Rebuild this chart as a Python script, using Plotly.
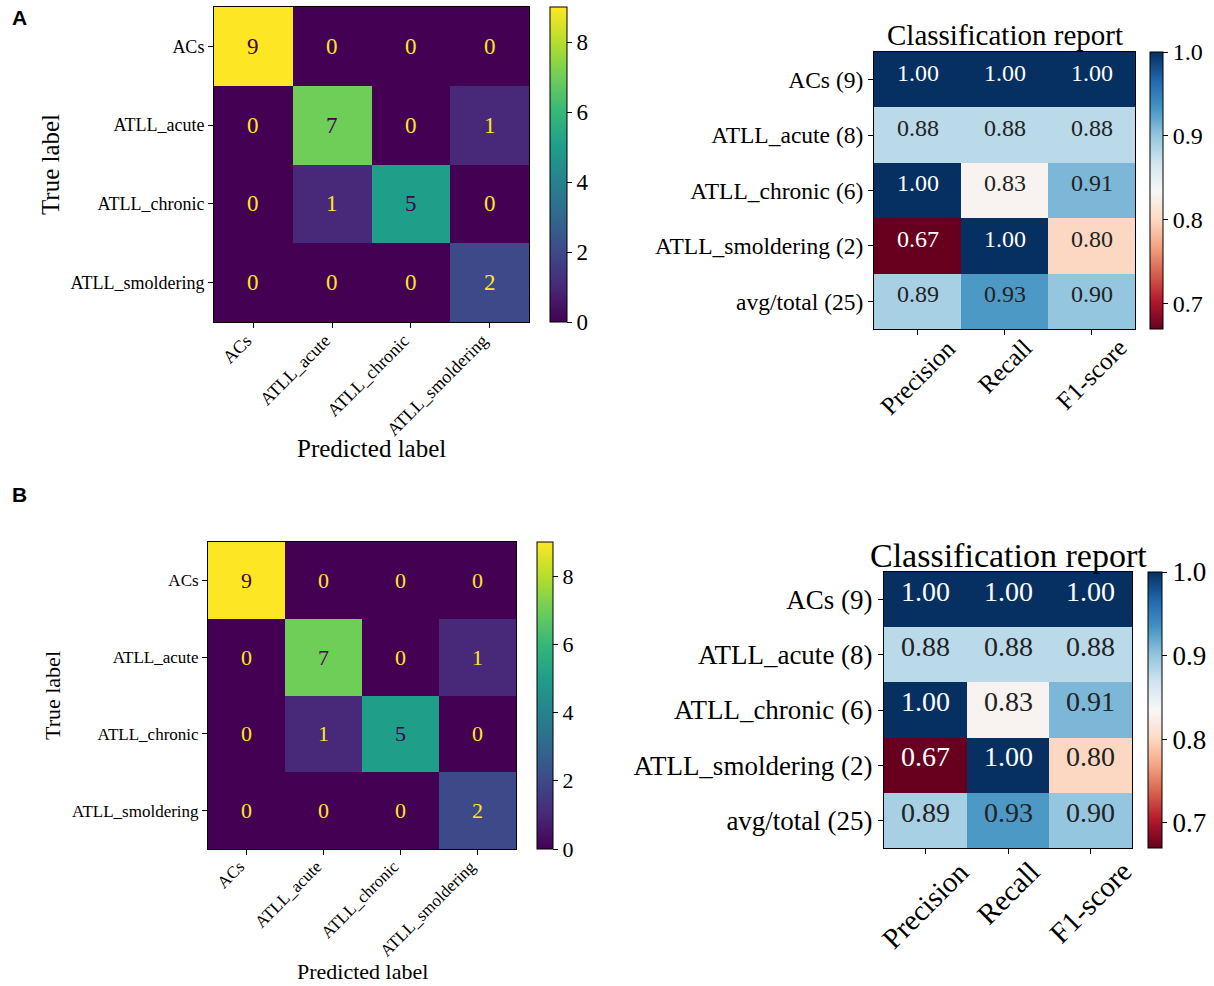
import plotly.graph_objects as go

W, H = 1214, 986

class_labels = ["ACs", "ATLL_acute", "ATLL_chronic", "ATLL_smoldering"]
confusion = [
    [9, 0, 0, 0],
    [0, 7, 0, 1],
    [0, 1, 5, 0],
    [0, 0, 0, 2],
]
report_rows = ["ACs (9)", "ATLL_acute (8)", "ATLL_chronic (6)", "ATLL_smoldering (2)", "avg/total (25)"]
report_cols = ["Precision", "Recall", "F1-score"]
precision = [1.00, 0.88, 1.00, 0.67, 0.89]
recall = [1.00, 0.88, 0.83, 1.00, 0.93]
f1_score = [1.00, 0.88, 0.91, 0.80, 0.90]
cm_ticks = [0, 2, 4, 6, 8]
cr_ticks = [0.7, 0.8, 0.9, 1.0]

FONT = "Liberation Serif"
RDBU = [
    [0.0, "#67001f"], [0.1, "#b2182b"], [0.2, "#d6604d"], [0.3, "#f4a582"],
    [0.4, "#fddbc7"], [0.5, "#f7f7f7"], [0.6, "#d1e5f0"], [0.7, "#92c5de"],
    [0.8, "#4393c3"], [0.9, "#2166ac"], [1.0, "#053061"],
]

report = [[precision[i], recall[i], f1_score[i]] for i in range(len(report_rows))]
cr_min = min(min(r) for r in report)
cr_max = max(max(r) for r in report)


def px_dom_x(a, b):
    return [a / W, b / W]


def px_dom_y(top, bottom):
    return [1 - bottom / H, 1 - top / H]


panels = {
    "cmA": dict(box=(214, 529, 7, 322), cb=(550, 17), tick=18, xtick=18, cell=23, title=25, cbtick=23,
                ystand=3, xtitle_shift=-126, tshift=0, xlshift=0),
    "crA": dict(box=(874, 1135, 52, 329), cb=(1150, 13), tick=23.5, xtick=25, cell=24, title=29, cbtick=24,
                tshift=-1, xlshift=-4),
    "cmB": dict(box=(208, 516, 542, 849), cb=(537, 16), tick=17, xtick=17, cell=22, title=22, cbtick=22,
                ystand=5, xtitle_shift=-122, tshift=0, xlshift=0),
    "crB": dict(box=(884, 1132, 572, 848), cb=(1148, 14), tick=27, xtick=29, cell=28, title=34, cbtick=27,
                tshift=-4, xlshift=-6),
}

fig = go.Figure()
annotations = []
axis_ids = {"cmA": "", "crA": "2", "cmB": "3", "crB": "4"}

for key, p in panels.items():
    l, r, t, b = p["box"]
    cbx, cbt = p["cb"]
    ax = axis_ids[key]
    xa = "x" + ax
    ya = "y" + ax
    cb = dict(
        x=cbx / W, xanchor="left", xpad=0,
        y=1 - t / H, yanchor="top", ypad=0,
        len=(b - t) / H, lenmode="fraction",
        thickness=cbt, thicknessmode="pixels",
        outlinewidth=1, outlinecolor="black",
        ticks="outside", ticklen=5, tickcolor="black",
        tickfont=dict(family=FONT, size=p["cbtick"], color="black"),
    )
    if key.startswith("cm"):
        zmax = max(max(row) for row in confusion)
        cb.update(tickvals=cm_ticks, ticktext=[str(v) for v in cm_ticks])
        fig.add_trace(go.Heatmap(
            z=confusion, x=class_labels, y=class_labels,
            colorscale="Viridis", zmin=0, zmax=zmax,
            colorbar=cb, xaxis=xa, yaxis=ya, hoverinfo="skip",
        ))
        for i, row in enumerate(confusion):
            for j, v in enumerate(row):
                annotations.append(dict(
                    x=class_labels[j], y=class_labels[i], xref=xa, yref=ya,
                    text=str(v), showarrow=False,
                    font=dict(family=FONT, size=p["cell"],
                              color="#440154" if v > zmax / 2 else "#fde725"),
                ))
        annotations.append(dict(
            x=0.5, y=0, xref=xa + " domain", yref=ya + " domain",
            xanchor="center", yanchor="middle", yshift=p["xtitle_shift"], showarrow=False,
            text="Predicted label", font=dict(family=FONT, size=p["title"], color="black"),
        ))
        ncol, nrow = len(class_labels), len(class_labels)
        xaxis = dict(
            domain=px_dom_x(l, r), anchor=ya, tickangle=-45, showticklabels=True,
            ticklabelshift=-7, ticklabelstandoff=-5,
        )
        yaxis = dict(
            domain=px_dom_y(t, b), anchor=xa,
            title=dict(text="True label", font=dict(family=FONT, size=p["title"], color="black"),
                       standoff=p["ystand"]),
        )
    else:
        cb.update(tickvals=cr_ticks, ticktext=["%.1f" % v for v in cr_ticks])
        fig.add_trace(go.Heatmap(
            z=report, x=report_cols, y=report_rows,
            colorscale=RDBU, zmin=cr_min, zmax=cr_max,
            colorbar=cb, xaxis=xa, yaxis=ya, hoverinfo="skip",
        ))
        for i, row in enumerate(report):
            for j, v in enumerate(row):
                norm = (v - cr_min) / (cr_max - cr_min)
                annotations.append(dict(
                    x=report_cols[j], y=report_rows[i], xref=xa, yref=ya,
                    text="%.2f" % v, showarrow=False, yshift=p["cell"] * 0.3,
                    font=dict(family=FONT, size=p["cell"],
                              color="white" if (norm < 0.15 or norm > 0.85) else "#222222"),
                ))
        # centered, rotated column labels (matplotlib ha='center', rotation=45)
        for c in report_cols:
            annotations.append(dict(
                x=c, y=0, xref=xa, yref=ya + " domain",
                xanchor="center", yanchor="top", textangle=-45, borderpad=0,
                yshift=p["xlshift"], showarrow=False, text=c,
                font=dict(family=FONT, size=p["xtick"], color="black"),
            ))
        annotations.append(dict(
            x=0.5, y=1, xref=xa + " domain", yref=ya + " domain",
            xanchor="center", yanchor="bottom", yshift=p["tshift"], showarrow=False,
            text="Classification report",
            font=dict(family=FONT, size=p["title"], color="black"),
        ))
        ncol, nrow = len(report_cols), len(report_rows)
        xaxis = dict(domain=px_dom_x(l, r), anchor=ya, showticklabels=False)
        yaxis = dict(domain=px_dom_y(t, b), anchor=xa)

    xaxis["range"] = [-0.5, ncol - 0.5]
    yaxis["range"] = [nrow - 0.5, -0.5]
    common = dict(
        showline=True, mirror=True, linecolor="black", linewidth=1, automargin=False,
        ticks="outside", ticklen=5, tickcolor="black", showgrid=False, zeroline=False,
    )
    xaxis.update(common)
    yaxis.update(common)
    xaxis["tickfont"] = dict(family=FONT, size=p["xtick"], color="black")
    yaxis["tickfont"] = dict(family=FONT, size=p["tick"], color="black")
    fig.update_layout(**{"xaxis" + ax: xaxis, "yaxis" + ax: yaxis})

for letter, ypx in (("A", 18), ("B", 495)):
    annotations.append(dict(
        x=10 / W, y=1 - ypx / H, xref="paper", yref="paper", xanchor="left", yanchor="middle",
        text="<b>%s</b>" % letter, showarrow=False,
        font=dict(family="Liberation Sans", size=21, color="black"),
    ))

fig.update_layout(
    width=W, height=H, margin=dict(l=0, r=0, t=0, b=0, autoexpand=False),
    paper_bgcolor="white", plot_bgcolor="white",
    annotations=annotations, showlegend=False,
)

fig.write_html("out.html", config={"displayModeBar": False},
               post_script="document.body.style.margin='0px';")
